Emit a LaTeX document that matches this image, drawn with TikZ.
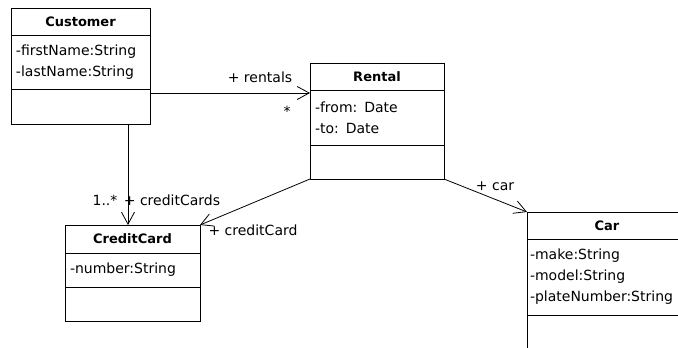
\documentclass[tikz,border=0pt]{standalone}
\usepackage{fontspec}
\setmainfont{DejaVu Sans}
\usetikzlibrary{arrows.meta,positioning}

\begin{document}
\begin{tikzpicture}[
    x=1pt, y=-1pt,
    font=\fontsize{14}{21}\selectfont,
    title/.style={draw, line width=0.9pt, outer sep=0pt, inner sep=0pt, font=\fontsize{13}{16}\selectfont\bfseries},
    attrs/.style={draw, line width=0.9pt, outer sep=0pt, inner xsep=5pt, inner ysep=0pt, align=left},
    ops/.style={draw, line width=0.9pt, outer sep=0pt, inner sep=0pt},
    assoc/.style={-{Straight Barb[length=12pt,width=13pt]}, line width=0.8pt},
    role/.style={inner sep=1pt}
]
\useasboundingbox (0,0) rectangle (678,348);

% Customer
\node[title, anchor=north west, minimum width=139pt, minimum height=27pt] (cust) at (11,8) {Customer};
\node[attrs, below=0pt of cust, text width=129pt, minimum height=54pt] (custattr) {-firstName:String\\-lastName:String};
\node[ops, below=0pt of custattr, minimum width=139pt, minimum height=35pt] (custops) {};

% Rental
\node[title, anchor=north west, minimum width=134pt, minimum height=27pt] (rent) at (310,63) {Rental};
\node[attrs, below=0pt of rent, text width=124pt, minimum height=55pt] (rentattr) {-from: Date\\-to: Date};
\node[ops, below=0pt of rentattr, minimum width=134pt, minimum height=34pt] (rentops) {};

% CreditCard
\node[title, anchor=north west, minimum width=135pt, minimum height=28pt] (card) at (65,225) {CreditCard};
\node[attrs, below=0pt of card, text width=125pt, minimum height=34pt] (cardattr) {-number:String};
\node[ops, below=0pt of cardattr, minimum width=135pt, minimum height=34pt] (cardops) {};

% Car
\node[title, anchor=north west, minimum width=160pt, minimum height=27pt] (car) at (527,212) {Car};
\node[attrs, below=0pt of car, text width=154pt, inner xsep=3pt, minimum height=76pt] (carattr) {-make:String\\-model:String\\-plateNumber:String};
\node[ops, below=0pt of carattr, minimum width=160pt, minimum height=35pt] (carops) {};

% associations
\draw[assoc] ([yshift=-4pt]custops.north east) -- ([yshift=-4pt]custops.north east -| rentattr.west);
\draw[assoc] ([xshift=-22pt]custops.south east) -- ([xshift=-22pt]custops.south east |- card.north);
\draw[assoc] (rentops.south west) -- (card.north east);
\draw[assoc] (rentops.south east) -- (car.north west);

% role names and multiplicities
\node[role] (rentals) at (260,77) {+ rentals};
\node[role] (rentalsmult) at (287,111) {*};
\node[role] (cardsmult) at (105,200) {1..*};
\node[role] (cards) at (172,200) {+ creditCards};
\node[role] (cardrole) at (253,230) {+ creditCard};
\node[role] (carrole) at (495,186) {+ car};
\end{tikzpicture}
\end{document}
